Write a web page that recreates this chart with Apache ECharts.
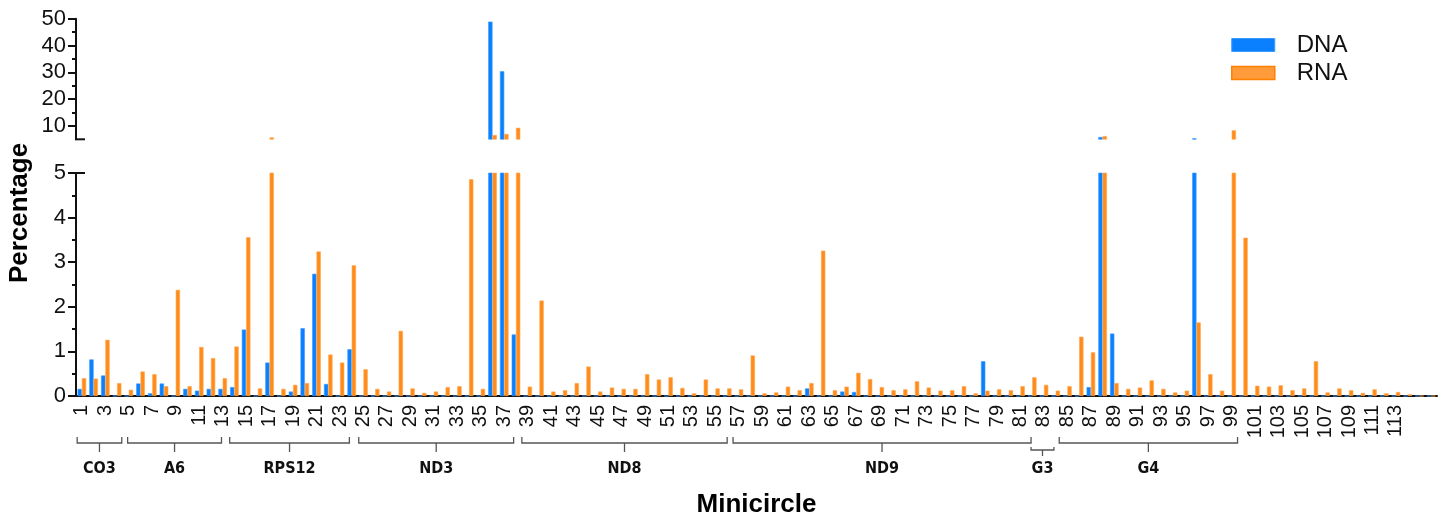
<!DOCTYPE html>
<html>
<head>
<meta charset="utf-8">
<script src="https://cdn.jsdelivr.net/npm/echarts@6/dist/echarts.min.js"></script>
<style>html,body{margin:0;padding:0;background:#fff}#c{width:1445px;height:518px}</style>
</head>
<body>
<div id="c"></div>
<script>
// ---- data ----
const categories = Array.from({length: 116}, (_, i) => String(i + 1));

const dna = [
  0.16, 0.82, 0.46, 0, 0, 0.28, 0.06, 0.28, 0, 0.16,
  0.12, 0.16, 0.16, 0.20, 1.49, 0, 0.75, 0, 0.10, 1.52,
  2.74, 0.27, 0, 1.05, 0, 0, 0, 0, 0, 0,
  0, 0, 0, 0, 0, 48.9, 30.4, 1.38, 0, 0,
  0, 0, 0, 0, 0, 0, 0, 0, 0, 0,
  0, 0, 0, 0, 0, 0, 0, 0, 0, 0,
  0, 0, 0.17, 0, 0, 0.10, 0.09, 0, 0, 0,
  0, 0, 0, 0, 0, 0, 0, 0.78, 0, 0,
  0, 0, 0, 0, 0, 0, 0.20, 5.86, 1.40, 0,
  0, 0, 0, 0, 0, 5.37, 0, 0, 0, 0,
  0, 0, 0, 0, 0, 0, 0, 0, 0, 0,
  0, 0, 0, 0, 0, 0
];

const rna = [
  0.40, 0.39, 1.26, 0.29, 0.14, 0.55, 0.49, 0.22, 2.38, 0.22,
  1.10, 0.85, 0.40, 1.11, 3.56, 0.17, 5.7, 0.16, 0.25, 0.29,
  3.24, 0.93, 0.75, 2.93, 0.60, 0.16, 0.10, 1.46, 0.17, 0.07,
  0.10, 0.20, 0.22, 4.86, 0.16, 6.6, 7.0, 9.3, 0.21, 2.14,
  0.10, 0.13, 0.29, 0.66, 0.10, 0.19, 0.16, 0.16, 0.49, 0.37,
  0.42, 0.18, 0.06, 0.37, 0.17, 0.17, 0.15, 0.91, 0.06, 0.08,
  0.21, 0.13, 0.29, 3.26, 0.13, 0.21, 0.52, 0.38, 0.20, 0.13,
  0.15, 0.33, 0.19, 0.12, 0.13, 0.22, 0.06, 0.12, 0.15, 0.13,
  0.22, 0.42, 0.25, 0.12, 0.22, 1.33, 0.98, 6.2, 0.29, 0.16,
  0.19, 0.35, 0.16, 0.08, 0.12, 1.65, 0.49, 0.12, 8.36, 3.55,
  0.23, 0.21, 0.24, 0.13, 0.17, 0.78, 0.08, 0.17, 0.13, 0.07,
  0.15, 0.06, 0.09, 0.04, 0, 0
];

const upperTicks = [10, 20, 30, 40, 50];
const upperMinorTicks = [15, 25, 35, 45];
const lowerTicks = [0, 1, 2, 3, 4, 5];

// gene groups: span in category units
const groups = [
  {name: 'CO3',   from: 0.6,  to: 4.4},
  {name: 'A6',    from: 4.9,  to: 12.9},
  {name: 'RPS12', from: 13.6, to: 23.8},
  {name: 'ND3',   from: 24.6, to: 37.8},
  {name: 'ND8',   from: 38.5, to: 56.0},
  {name: 'ND9',   from: 56.5, to: 81.9},
  {name: 'G3',    from: 81.9, to: 83.85, inner: true},
  {name: 'G4',    from: 84.3, to: 99.5}
];

// ---- chart ----
const FONT = "'Liberation Sans', Arial, Helvetica, sans-serif";
const NARROW = "'Liberation Sans Narrow', 'DejaVu Sans Condensed', 'Liberation Sans', sans-serif";
const chart = echarts.init(document.getElementById('c'), null, {renderer: 'canvas'});

const dnaStyle = {color: '#0A80FF', borderColor: '#3C9BFF', borderWidth: 0.6};
const rnaStyle = {color: '#FF8C1A', borderColor: '#FFAA55', borderWidth: 0.6};
const showEvery = (idx) => idx % 2 === 0 && idx <= 112;
const axisLineStyle = {color: '#111', width: 2};

const option = {
  animation: false,
  backgroundColor: '#fff',
  textStyle: {fontFamily: FONT},
  grid: [
    {left: 76, right: 8, top: 18.7, height: 120.6, outerBoundsMode: 'none', containLabel: false},
    {left: 76, right: 8, top: 173, height: 223, outerBoundsMode: 'none', containLabel: false}
  ],
  legend: {
    orient: 'vertical',
    left: 1226, top: 26,
    itemWidth: 43, itemHeight: 13, itemGap: 0,
    icon: 'rect',
    textStyle: {fontSize: 24, lineHeight: 28, color: '#111', fontFamily: FONT, padding: [0, 0, 0, 17]},
    data: [
      {name: 'DNA', itemStyle: {color: '#0A80FF', borderColor: '#3C9BFF', borderWidth: 1}},
      {name: 'RNA', itemStyle: {color: '#FF9B3A', borderColor: '#FF7F00', borderWidth: 1.5}}
    ]
  },
  xAxis: [
    {type: 'category', gridIndex: 0, data: categories, show: false},
    {
      type: 'category', gridIndex: 1, data: categories,
      axisLine: {lineStyle: axisLineStyle},
      axisTick: {alignWithLabel: true, interval: showEvery, length: 7, lineStyle: axisLineStyle},
      axisLabel: {interval: showEvery, rotate: 90, fontSize: 20, color: '#111', margin: 9, fontFamily: FONT}
    }
  ],
  yAxis: [
    {
      type: 'value', gridIndex: 0, min: 5, max: 50, interval: 5,
      axisLine: {show: true, lineStyle: axisLineStyle},
      axisTick: {show: true, customValues: upperTicks, length: 8, lineStyle: axisLineStyle},
      axisLabel: {customValues: upperTicks, fontSize: 22, color: '#111', margin: 10, fontFamily: FONT},
      splitLine: {show: false}
    },
    {
      type: 'value', gridIndex: 1, min: 0, max: 5, interval: 1,
      axisLine: {show: true, lineStyle: axisLineStyle},
      axisTick: {show: true, length: 8, lineStyle: axisLineStyle},
      minorTick: {show: true, splitNumber: 2, length: 4, lineStyle: {color: '#111', width: 2}},
      axisLabel: {fontSize: 22, color: '#111', margin: 10, fontFamily: FONT},
      splitLine: {show: false}
    },
    {
      type: 'value', gridIndex: 0, min: 5, max: 50, interval: 5, position: 'left',
      axisLine: {show: false},
      axisTick: {show: true, customValues: upperMinorTicks, length: 4, lineStyle: axisLineStyle},
      axisLabel: {show: false},
      splitLine: {show: false}
    }
  ],
  series: [
    {name: 'DNA', type: 'bar', xAxisIndex: 1, yAxisIndex: 1, data: dna, barWidth: 4.3, barGap: '0%', itemStyle: dnaStyle},
    {name: 'RNA', type: 'bar', xAxisIndex: 1, yAxisIndex: 1, data: rna, barWidth: 4.3, barGap: '0%', itemStyle: rnaStyle},
    {name: 'DNA', type: 'bar', xAxisIndex: 0, yAxisIndex: 0, data: dna, barWidth: 4.3, barGap: '0%', itemStyle: dnaStyle},
    {name: 'RNA', type: 'bar', xAxisIndex: 0, yAxisIndex: 0, data: rna, barWidth: 4.3, barGap: '0%', itemStyle: rnaStyle}
  ]
};
chart.setOption(option);

// ---- annotations computed from the axes ----
const x1 = chart.convertToPixel({xAxisIndex: 1}, categories[0]);
const x2 = chart.convertToPixel({xAxisIndex: 1}, categories[1]);
const step = x2 - x1;
const px = (c) => x1 + (c - 1) * step;
const axisX = x1 - step / 2;
const axisEnd = axisX + step * categories.length;
const axisY = chart.convertToPixel({yAxisIndex: 1}, 0);
const topBreak = chart.convertToPixel({yAxisIndex: 0}, 5);
const botBreak = chart.convertToPixel({yAxisIndex: 1}, 5);

const bracketColor = '#555';
const graphics = [];
groups.forEach((g) => {
  const a = px(g.from), b = px(g.to), m = (a + b) / 2;
  const ly = axisY + (g.inner ? 54 : 47);
  const up = g.inner ? 3 : 6;
  const down = g.inner ? 6 : 9;
  graphics.push({
    type: 'polyline', silent: true,
    shape: {points: [[a, ly - up], [a, ly], [b, ly], [b, ly - up]]},
    style: {stroke: bracketColor, lineWidth: 1.3, fill: null}
  });
  graphics.push({
    type: 'line', silent: true,
    shape: {x1: m, y1: ly, x2: m, y2: ly + down},
    style: {stroke: bracketColor, lineWidth: 1.3}
  });
  graphics.push({
    type: 'text', silent: true, x: m, y: axisY + 73,
    style: {text: g.name, fill: '#111', font: "bold 16px " + NARROW, textAlign: 'center', textVerticalAlign: 'middle'}
  });
});
// break caps
graphics.push({type: 'line', silent: true, shape: {x1: axisX - 1, y1: topBreak, x2: axisX + 9, y2: topBreak}, style: {stroke: '#111', lineWidth: 2}});
graphics.push({type: 'line', silent: true, shape: {x1: axisX - 1, y1: botBreak, x2: axisX + 9, y2: botBreak}, style: {stroke: '#111', lineWidth: 2}});
// axis titles
graphics.push({
  type: 'text', silent: true, x: 20, y: 213, rotation: Math.PI / 2,
  style: {text: 'Percentage', fill: '#000', font: "bold 26px " + FONT, textAlign: 'center', textVerticalAlign: 'middle'}
});
graphics.push({
  type: 'text', silent: true, x: (axisX + axisEnd) / 2, y: axisY + 109,
  style: {text: 'Minicircle', fill: '#000', font: "bold 26px " + FONT, textAlign: 'center', textVerticalAlign: 'middle'}
});
chart.setOption({graphic: graphics});
</script>
</body>
</html>
